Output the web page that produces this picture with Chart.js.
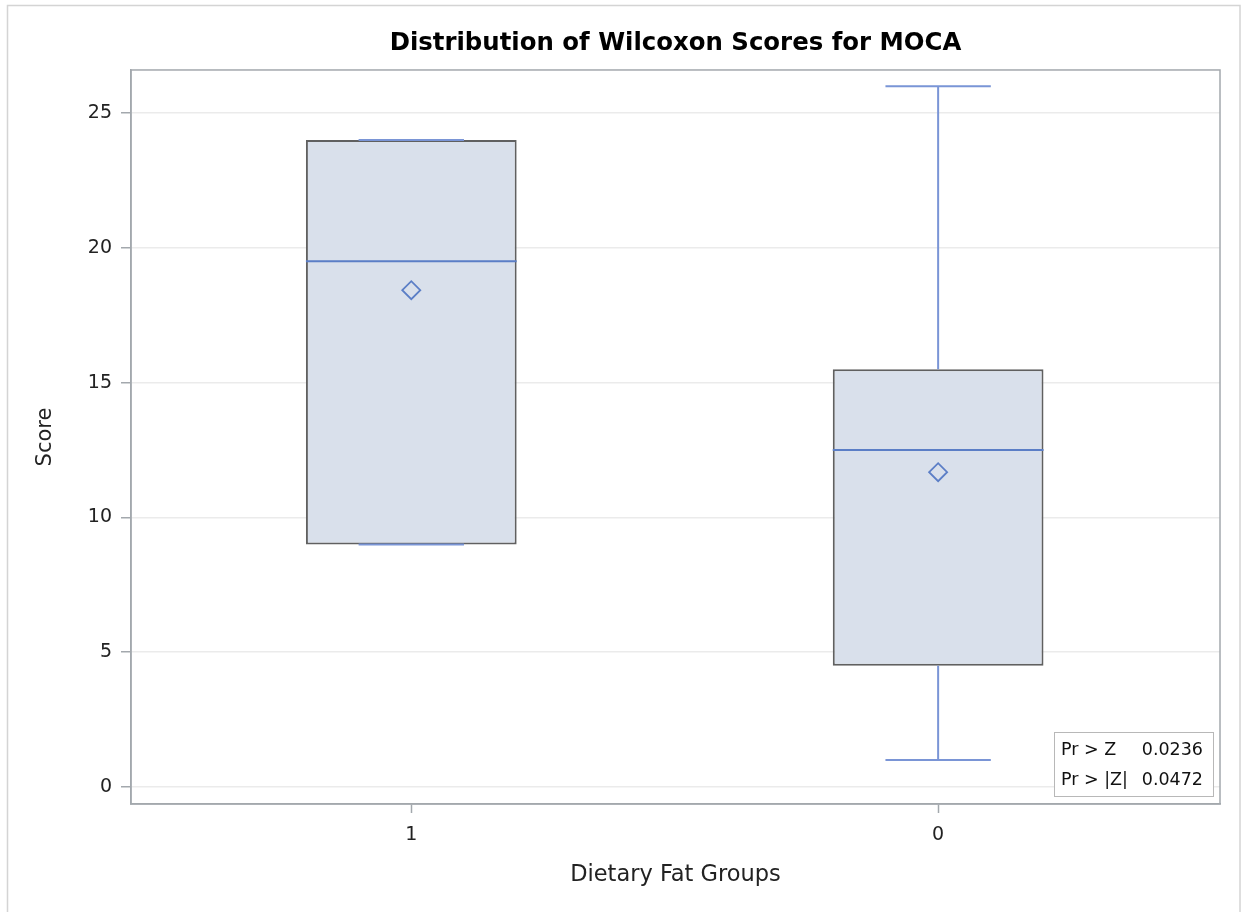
<!DOCTYPE html>
<html>
<head>
<meta charset="utf-8">
<script src="https://cdn.jsdelivr.net/npm/chart.js@4"></script>
<style>
  body { margin: 0; background: #fff; }
  canvas { display: block; }
</style>
</head>
<body>
<canvas id="chart" width="1244" height="912"></canvas>
<script>
// groups in display order
const groups = ['1', '0'];
const mins = [9, 1];
const q1s = [9, 4.5];
const medians = [19.5, 12.5];
const q3s = [24, 15.5];
const maxs = [24, 26];
const means = [18.43, 11.68];
const yTicks = [0, 5, 10, 15, 20, 25];
const statLabels = ['Pr > Z', 'Pr > |Z|'];
const statValues = ['0.0236', '0.0472'];

const FONT = '"DejaVu Sans", Verdana, sans-serif';
const BOX_HALF = 0.2;
const CAP_HALF = 0.1;

// whisker stems and caps, separated by gap points
const whiskers = [];
const medianLines = [];
groups.forEach((g, i) => {
    const gap = { x: i, y: null };
    whiskers.push({ x: i, y: q3s[i] }, { x: i, y: maxs[i] }, gap);
    whiskers.push({ x: i, y: q1s[i] }, { x: i, y: mins[i] }, gap);
    whiskers.push({ x: i - CAP_HALF, y: maxs[i] }, { x: i + CAP_HALF, y: maxs[i] }, gap);
    whiskers.push({ x: i - CAP_HALF, y: mins[i] }, { x: i + CAP_HALF, y: mins[i] }, gap);
    medianLines.push({ x: i - BOX_HALF, y: medians[i] }, { x: i + BOX_HALF, y: medians[i] }, gap);
});

const framePlugin = {
    id: 'frame',
    beforeDraw(chart) {
        const ctx = chart.ctx;
        ctx.save();
        ctx.fillStyle = '#fff';
        ctx.fillRect(0, 0, chart.width, chart.height);
        ctx.strokeStyle = '#d4d4d4';
        ctx.lineWidth = 1.5;
        ctx.strokeRect(7.5, 5.5, chart.width - 4 - 7.5, chart.height + 20);
        ctx.restore();
    },
    afterDraw(chart) {
        const ctx = chart.ctx;
        const a = chart.chartArea;
        ctx.save();
        ctx.strokeStyle = '#a3a8ad';
        ctx.lineWidth = 1.5;
        ctx.strokeRect(a.left, a.top, a.right - a.left, a.bottom - a.top);

        // p-value inset
        const w = 159, h = 64;
        const x0 = a.right - 7 - w, y0 = a.bottom - 8 - h;
        ctx.fillStyle = '#fff';
        ctx.fillRect(x0, y0, w, h);
        ctx.strokeStyle = '#b8b8b8';
        ctx.lineWidth = 1;
        ctx.strokeRect(x0 + 0.5, y0 + 0.5, w, h);
        ctx.font = '17.5px ' + FONT;
        ctx.fillStyle = '#111';
        ctx.textBaseline = 'middle';
        statLabels.forEach((lab, i) => {
            const yy = y0 + 18 + i * 30;
            ctx.textAlign = 'left';
            ctx.fillText(lab, x0 + 7, yy);
            ctx.textAlign = 'right';
            ctx.fillText(statValues[i], x0 + w - 10, yy);
        });
        ctx.restore();
    }
};

new Chart(document.getElementById('chart'), {
    type: 'bar',
    data: {
        datasets: [
            {
                type: 'scatter',
                data: means.map((m, i) => ({ x: i, y: m })),
                pointStyle: 'rectRot',
                pointRadius: 9,
                pointBackgroundColor: 'rgba(0,0,0,0)',
                pointBorderColor: '#5b7ec6',
                pointBorderWidth: 1.8,
                order: 0
            },
            {
                type: 'line',
                data: medianLines,
                borderColor: '#5b7ec6',
                borderWidth: 2,
                pointRadius: 0,
                spanGaps: false,
                order: 1
            },
            {
                type: 'line',
                data: whiskers,
                borderColor: '#7a95d6',
                borderWidth: 2,
                pointRadius: 0,
                spanGaps: false,
                order: 2
            },
            {
                type: 'bar',
                data: groups.map((g, i) => ({ x: i, y: [q1s[i], q3s[i]] })),
                backgroundColor: '#d9e0eb',
                borderColor: '#606060',
                borderWidth: 2,
                borderSkipped: false,
                barPercentage: 2 * BOX_HALF,
                categoryPercentage: 1,
                order: 3
            }
        ]
    },
    options: {
        responsive: false,
        animation: false,
        layout: { padding: { left: 0, right: 24, top: 0, bottom: 0 } },
        plugins: {
            legend: { display: false },
            tooltip: { enabled: false },
            title: {
                display: true,
                fullSize: false,
                text: 'Distribution of Wilcoxon Scores for MOCA',
                color: '#000',
                font: { family: FONT, size: 24.4, weight: 'bold' },
                padding: { top: 29.5, bottom: 11.2 }
            }
        },
        scales: {
            x: {
                type: 'linear',
                min: -0.532,
                max: 1.535,
                offset: false,
                afterBuildTicks(scale) {
                    scale.ticks = groups.map((g, i) => ({ value: i }));
                },
                afterFit(scale) { scale.height = 108; },
                ticks: {
                    callback: v => groups[v],
                    color: '#222',
                    font: { family: FONT, size: 19 },
                    padding: 11
                },
                grid: {
                    offset: false,
                    drawOnChartArea: false,
                    drawTicks: true,
                    tickLength: 9,
                    tickColor: '#a3a8ad',
                    tickWidth: 1.5
                },
                border: { display: true, color: '#a3a8ad', width: 1.5 },
                title: {
                    display: true,
                    text: 'Dietary Fat Groups',
                    color: '#222',
                    font: { family: FONT, size: 22.5 },
                    padding: { top: 0, bottom: 23 }
                }
            },
            y: {
                type: 'linear',
                min: -0.63,
                max: 26.6,
                afterBuildTicks(scale) {
                    scale.ticks = yTicks.map(v => ({ value: v }));
                },
                afterFit(scale) { scale.width = 131; },
                ticks: {
                    color: '#222',
                    font: { family: FONT, size: 19 },
                    padding: 9
                },
                grid: {
                    color: '#ebebeb',
                    lineWidth: 1.5,
                    drawTicks: true,
                    tickLength: 10,
                    tickColor: '#a3a8ad',
                    tickWidth: 1.5
                },
                border: { display: true, color: '#a3a8ad', width: 1.5 },
                title: {
                    display: true,
                    text: 'Score',
                    color: '#222',
                    font: { family: FONT, size: 21 },
                    padding: { top: 32.5, bottom: 0 }
                }
            }
        }
    },
    plugins: [framePlugin]
});
</script>
</body>
</html>
